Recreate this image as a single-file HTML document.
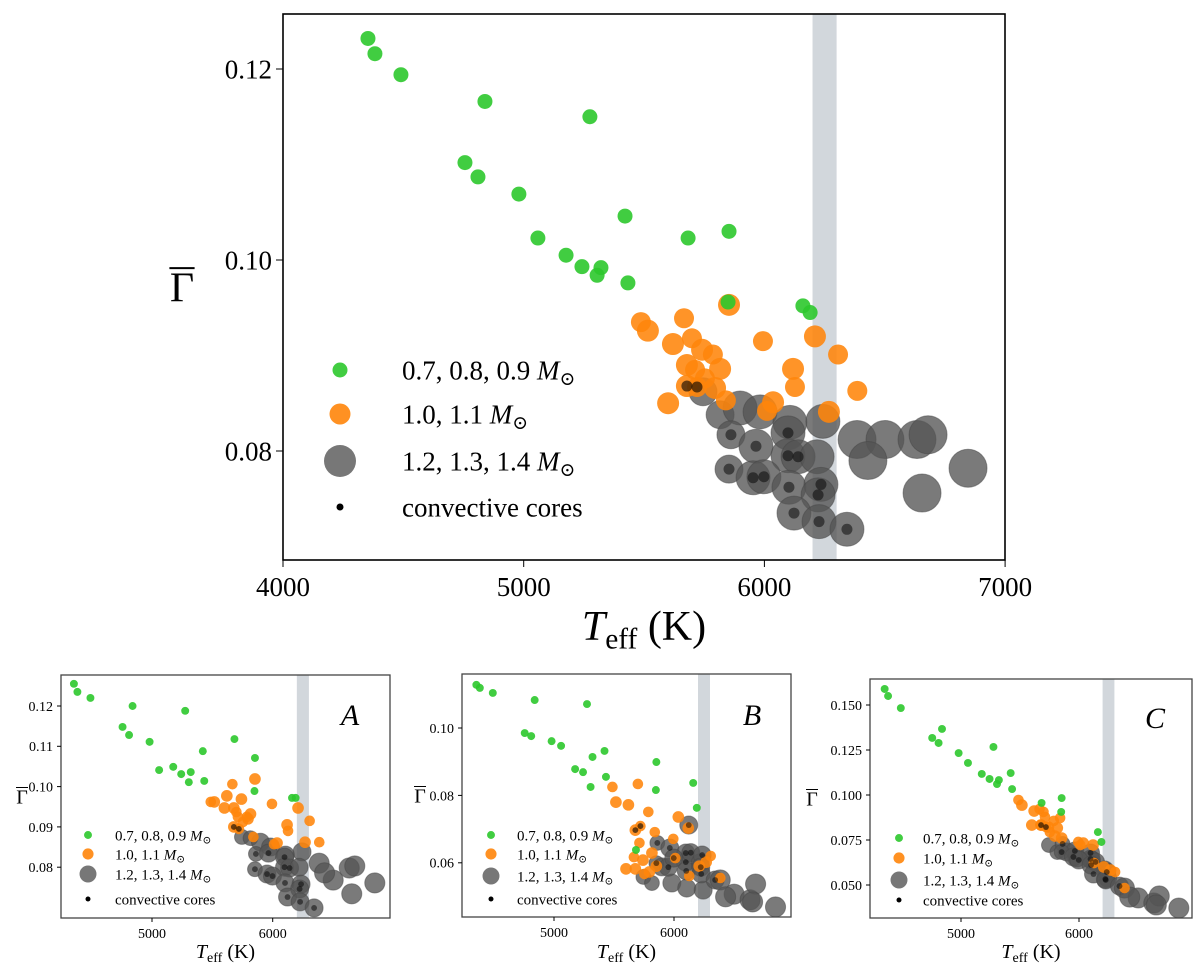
<!DOCTYPE html>
<html><head><meta charset="utf-8"><style>
html,body{margin:0;padding:0;background:#fff}
svg{display:block}
text{font-family:"Liberation Serif","DejaVu Serif",serif;fill:#000}
</style></head><body>
<svg id="fig" width="1200" height="969" viewBox="0 0 1200 969" xmlns="http://www.w3.org/2000/svg"></svg>
<script>
// ---------- data ----------
const greenTeff=[4353,4382,4490,4839,5275,4756,4810,4980,5059,5176,5242,5321,5305,5433,5421,5683,5853,5849,6160,6190];
const greenG=[0.1232,0.1216,0.1194,0.1166,0.1150,0.1102,0.1087,0.1069,0.1023,0.1005,0.0993,0.0992,0.0984,0.0976,0.1046,0.1023,0.1030,0.0956,0.0952,0.0945];
const greenGA=[0.1255,0.1235,0.1220,0.1200,0.1188,0.1148,0.1128,0.1111,0.1041,0.1049,0.1031,0.1036,0.1011,0.1014,0.1088,0.1118,0.1071,0.0989,0.0972,0.0972];
const greenGB=[0.1128,0.1119,0.1104,0.1083,0.1071,0.0985,0.0976,0.0961,0.0947,0.0878,0.0869,0.0914,0.0825,0.0855,0.0932,0.0638,0.0899,0.0816,0.0837,0.0763];
const greenGC=[0.1589,0.1550,0.1483,0.1367,0.1267,0.1317,0.1289,0.1233,0.1178,0.1117,0.1089,0.1083,0.1061,0.1033,0.1122,0.0956,0.0983,0.0906,0.0794,0.0739];

const orangeTeff=[5487,5516,5666,5620,5699,5741,5786,5678,5712,5816,5753,5678,5720,5795,5840,5600,5853,5994,6210,6306,6119,6127,6036,6011,6386,6268];
const orangeMass=[1.0,1.1,1.0,1.1,1.0,1.1,1.0,1.1,1.0,1.1,1.0,1.1,1.0,1.1,1.0,1.1,1.1,1.0,1.1,1.0,1.1,1.0,1.1,1.0,1.0,1.1];
const orangeCore=[0,0,0,0,0,0,0,0,0,0,0,1,1,0,0,0,0,0,0,0,0,0,0,0,0,0];
const orangeG=[0.0935,0.0926,0.0939,0.0912,0.0918,0.0906,0.0901,0.0890,0.0885,0.0886,0.0876,0.0868,0.0867,0.0866,0.0853,0.0850,0.0953,0.0915,0.0920,0.0901,0.0886,0.0867,0.0851,0.0842,0.0863,0.0841];
const orangeGA=[0.0962,0.0962,0.1006,0.0977,0.0937,0.0969,0.0925,0.0947,0.0925,0.0932,0.0912,0.0900,0.0895,0.0920,0.0875,0.0947,0.1019,0.0957,0.0947,0.0915,0.0905,0.0890,0.0860,0.0857,0.0862,0.0862];
const orangeGB=[0.0825,0.0780,0.0617,0.0772,0.0834,0.0608,0.0751,0.0582,0.0659,0.0629,0.0567,0.0697,0.0709,0.0573,0.0691,0.0582,0.0590,0.0671,0.0590,0.0620,0.0703,0.0561,0.0736,0.0614,0.0555,0.0602];
const orangeGC=[0.0972,0.0944,0.0922,0.0911,0.0906,0.0822,0.0856,0.0833,0.0878,0.0817,0.0794,0.0833,0.0822,0.0772,0.0872,0.0833,0.0761,0.0739,0.0600,0.0572,0.0722,0.0622,0.0733,0.0722,0.0483,0.0583];

const grayTeff=[5745,5816,5899,5982,6106,6243,5861,5965,6098,6098,6140,6219,5853,5953,5998,6102,6235,6223,6123,6227,6343,6385,6501,6634,6680,6430,6846,6655];
const grayMass=[1.2,1.2,1.3,1.3,1.3,1.3,1.2,1.3,1.3,1.3,1.3,1.3,1.2,1.3,1.3,1.3,1.3,1.3,1.3,1.3,1.3,1.4,1.4,1.4,1.4,1.4,1.4,1.4];
const grayCore=[0,0,0,0,0,0,1,1,1,1,1,0,1,1,1,1,1,1,1,1,1,0,0,0,0,0,0,0];
const grayG=[0.0862,0.0838,0.0845,0.0841,0.0830,0.0831,0.0817,0.0805,0.0819,0.0795,0.0794,0.0794,0.0781,0.0772,0.0773,0.0762,0.0765,0.0754,0.0735,0.0726,0.0718,0.0812,0.0812,0.0812,0.0817,0.0790,0.0782,0.0756];
const grayGA=[0.0875,0.0872,0.0862,0.0850,0.0830,0.0838,0.0833,0.0835,0.0825,0.0800,0.0798,0.0800,0.0795,0.0783,0.0778,0.0761,0.0758,0.0746,0.0726,0.0714,0.0699,0.0810,0.0768,0.0798,0.0803,0.0786,0.0761,0.0734];
const grayGB=[0.0558,0.0540,0.0588,0.0540,0.0525,0.0519,0.0659,0.0644,0.0629,0.0602,0.0630,0.0600,0.0599,0.0587,0.0614,0.0576,0.0623,0.0587,0.0712,0.0567,0.0549,0.0549,0.0507,0.0490,0.0537,0.0499,0.0469,0.0484];
const grayGC=[0.0722,0.0683,0.0683,0.0650,0.0639,0.0539,0.0728,0.0689,0.0678,0.0644,0.0628,0.0583,0.0683,0.0656,0.0639,0.0611,0.0572,0.0533,0.0561,0.0528,0.0494,0.0483,0.0428,0.0400,0.0439,0.0433,0.0372,0.0389];

const bandTeff=[6200,6300];
const legendLabels=["0.7, 0.8, 0.9 ","1.0, 1.1 ","1.2, 1.3, 1.4 ","convective cores"];
const mainXTicks=[4000,5000,6000,7000];
const mainYTicks=[0.08,0.10,0.12];
const smallXTicks=[5000,6000];
const aYTicks=[0.08,0.09,0.10,0.11,0.12];
const bYTicks=[0.06,0.08,0.10];
const cYTicks=[0.05,0.075,0.10,0.125,0.15];

// ---------- drawing ----------
const NS="http://www.w3.org/2000/svg";
const svg=document.getElementById('fig');
function mk(tag,attrs,parent){const e=document.createElementNS(NS,tag);for(const k in attrs)e.setAttribute(k,attrs[k]);(parent||svg).appendChild(e);return e;}

function panel(cfg){
  const g=mk('g',{});
  
  
  const [x0,y0,x1,y1]=cfg.box;
  const X=t=>cfg.xa+(t-cfg.xt)*cfg.xs;
  const Y=v=>cfg.ya-(v-cfg.yv)*cfg.ys;
  const clip='clip-'+cfg.name;
  const cp=mk('clipPath',{id:clip},g);mk('rect',{x:x0,y:y0,width:x1-x0,height:y1-y0},cp);
  const pg=mk('g',{'clip-path':'url(#'+clip+')'},g);
  const band=mk('rect',{x:X(bandTeff[0]),y:y0,width:X(bandTeff[1])-X(bandTeff[0]),height:y1-y0,fill:'#d2d7dc'},pg);
  
  
  const s=cfg.sc;
  grayTeff.forEach((t,i)=>{
    const r=(grayMass[i]==1.2?14:grayMass[i]==1.3?17:19)*s;
    const c=mk('circle',{cx:X(t),cy:Y(cfg.gray[i]),r:r,fill:'rgba(85,85,85,0.78)',stroke:'rgba(70,70,70,0.5)','stroke-width':1},pg);
    
    
  });
  orangeTeff.forEach((t,i)=>{
    const r=(orangeMass[i]==1.0?10:11)*s;
    const c=mk('circle',{cx:X(t),cy:Y(cfg.orange[i]),r:r,fill:'rgba(255,133,10,0.88)'},pg);
    
    
  });
  greenTeff.forEach((t,i)=>{
    const c=mk('circle',{cx:X(t),cy:Y(cfg.green[i]),r:7.5*s,fill:'rgba(44,200,44,0.9)'},pg);
    
    
  });
  grayTeff.forEach((t,i)=>{if(!grayCore[i])return;
    const c=mk('circle',{cx:X(t),cy:Y(cfg.gray[i]),r:5.5*s,fill:'rgba(0,0,0,0.5)'},pg);
    
    
  });
  orangeTeff.forEach((t,i)=>{if(!orangeCore[i])return;
    const c=mk('circle',{cx:X(t),cy:Y(cfg.orange[i]),r:5.5*s,fill:'rgba(0,0,0,0.6)'},pg);
    
    
  });
  const frame=mk('rect',{x:x0,y:y0,width:x1-x0,height:y1-y0,fill:'none',stroke:cfg.main?'#000':'#444','stroke-width':cfg.main?1.6:1.3},g);
  
  
  const tl=cfg.main?7:4;
  cfg.xticks.forEach(t=>{
    mk('line',{x1:X(t),x2:X(t),y1:y1,y2:y1+tl,stroke:'#000','stroke-width':1},g);
    const tx=mk('text',{x:X(t),y:y1+tl+cfg.fs+2,'text-anchor':'middle','font-size':cfg.fs},g);
    tx.textContent=t;
    
    
  });
  cfg.yticks.forEach(v=>{
    mk('line',{x1:x0-tl,x2:x0,y1:Y(v),y2:Y(v),stroke:'#000','stroke-width':1},g);
    const tx=mk('text',{x:x0-tl-4,y:Y(v)+cfg.fs*0.35,'text-anchor':'end','font-size':cfg.fs},g);
    tx.textContent=cfg.yfmt(v);
    
    
  });
  const xl=mk('text',{x:(x0+x1)/2,y:cfg.xly,'text-anchor':'middle','font-size':cfg.xlf},g);
  
  
  xl.innerHTML='<tspan font-style="italic">T</tspan><tspan font-size="'+(cfg.xlf*0.7)+'" dy="'+(cfg.xlf*0.2)+'">eff</tspan><tspan dy="'+(-cfg.xlf*0.2)+'"> (K)</tspan>';
  const yl=mk('text',{x:cfg.ylx,y:(y0+y1)/2+cfg.xlf*0.35,'text-anchor':'middle','font-size':cfg.xlf},g);
  
  
  yl.textContent='Γ';
  mk('line',{x1:cfg.ylx-cfg.xlf*0.3,x2:cfg.ylx+cfg.xlf*0.3,y1:(y0+y1)/2-cfg.xlf*0.45,y2:(y0+y1)/2-cfg.xlf*0.45,stroke:'#000','stroke-width':cfg.main?2:1},g);
  const L=cfg.leg;
  const lr=[7.5*s,10.5*s,16*s,cfg.main?3.5:2.5];
  const lc=['rgba(44,200,44,0.9)','rgba(255,133,10,0.9)','rgba(85,85,85,0.8)','#000'];
  legendLabels.forEach((lab,i)=>{
    const y=L.rows[i];
    const m=mk('circle',{cx:L.mx,cy:y,r:lr[i],fill:lc[i]},g);
    
    
    const t=mk('text',{x:L.tx,y:y+L.fs*0.35,'font-size':L.fs},g);
    
    
    t.innerHTML=i<3?lab+'<tspan font-style="italic">M</tspan><tspan font-size="'+(L.fs*0.7)+'" dy="'+(L.fs*0.2)+'">⊙</tspan>':lab;
  });
  if(cfg.letter){
    const t=mk('text',{x:cfg.letter[1],y:cfg.letter[2],'font-size':cfg.letter[3],'font-style':'italic','text-anchor':'middle'},g);
    t.textContent=cfg.letter[0];
    
    
  }
}
const f2=v=>v.toFixed(2), f3=v=>v.toFixed(3);
panel({name:'main-chart',main:true,box:[283,14,1005,560],xa:283,xt:4000,xs:0.2407,ya:260,yv:0.10,ys:9550,sc:1,
  green:greenG,orange:orangeG,gray:grayG,xticks:mainXTicks,yticks:mainYTicks,yfmt:f2,fs:27,xly:640,xlf:42,ylx:182,
  leg:{mx:340,tx:402,fs:27,rows:[370,414,461,507]}});
panel({name:'panel-a',box:[61,675,390,918],xa:152,xt:5000,xs:0.1207,ya:706,yv:0.12,ys:4030,sc:0.53,
  green:greenGA,orange:orangeGA,gray:grayGA,xticks:smallXTicks,yticks:aYTicks,yfmt:f2,fs:14,xly:958,xlf:20,ylx:22,
  leg:{mx:88,tx:115,fs:15,rows:[835,854,874,899]},letter:['A',350,725,30]});
panel({name:'panel-b',box:[462,674,791,917],xa:554,xt:5000,xs:0.120,ya:728,yv:0.10,ys:3370,sc:0.53,
  green:greenGB,orange:orangeGB,gray:grayGB,xticks:smallXTicks,yticks:bYTicks,yfmt:f2,fs:14,xly:958,xlf:20,ylx:420,
  leg:{mx:491,tx:517,fs:15,rows:[835,854,876,899]},letter:['B',752,725,30]});
panel({name:'panel-c',box:[870,679,1192,918],xa:961,xt:5000,xs:0.118,ya:795,yv:0.10,ys:1800,sc:0.53,
  green:greenGC,orange:orangeGC,gray:grayGC,xticks:smallXTicks,yticks:cYTicks,yfmt:f3,fs:14,xly:958,xlf:20,ylx:812,
  leg:{mx:899,tx:923,fs:15,rows:[838,858,880,900]},letter:['C',1155,728,30]});
</script>
</body></html>
